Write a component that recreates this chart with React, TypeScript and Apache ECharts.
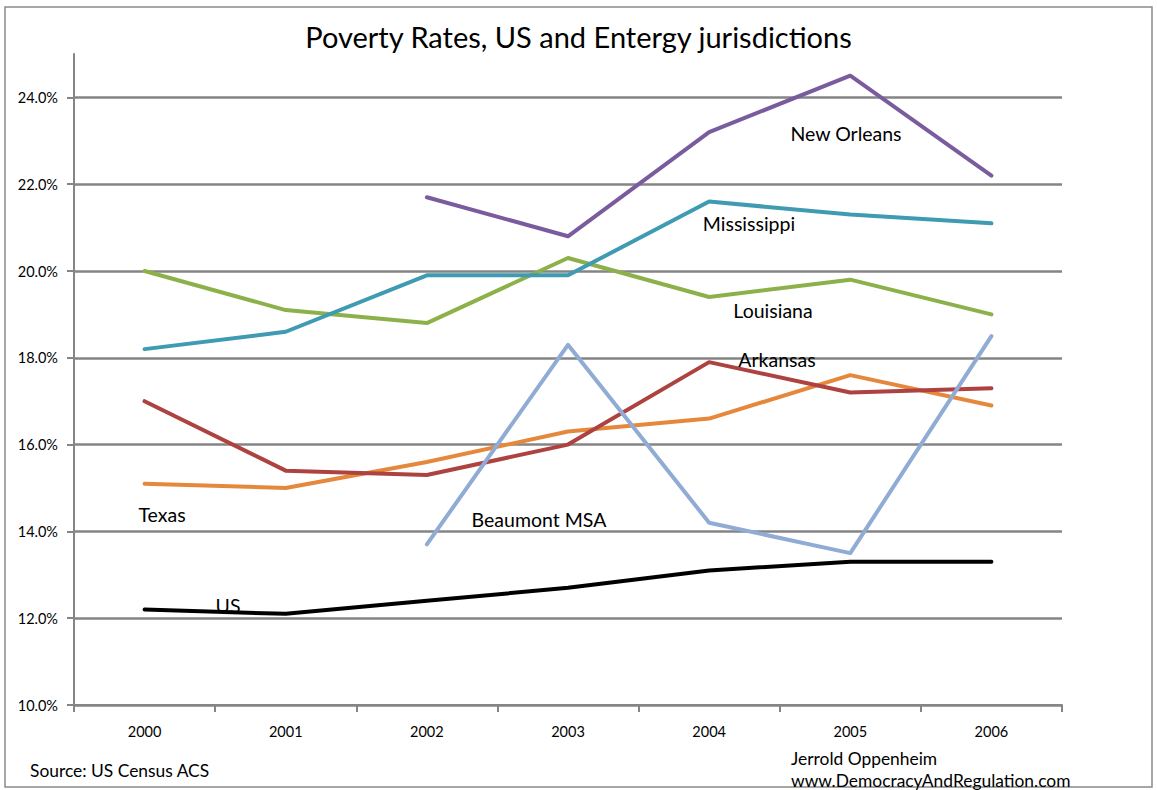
import React, { useEffect, useRef } from 'react';
import * as echarts from 'echarts';

const years = ['2000', '2001', '2002', '2003', '2004', '2005', '2006'];
const usRate = [12.2, 12.1, 12.4, 12.7, 13.1, 13.3, 13.3];
const texasRate = [15.1, 15.0, 15.6, 16.3, 16.6, 17.6, 16.9];
const arkansasRate = [17.0, 15.4, 15.3, 16.0, 17.9, 17.2, 17.3];
const louisianaRate = [20.0, 19.1, 18.8, 20.3, 19.4, 19.8, 19.0];
const mississippiRate = [18.2, 18.6, 19.9, 19.9, 21.6, 21.3, 21.1];
const newOrleansRate = [null, null, 21.7, 20.8, 23.2, 24.5, 22.2];
const beaumontRate = [null, null, 13.7, 18.3, 14.2, 13.5, 18.5];
const yTicks = [10, 12, 14, 16, 18, 20, 22, 24];

const FONT = 'Lato, "Liberation Sans", sans-serif';
const GRID = '#858585';

export default function App() {
  const ref = useRef<HTMLDivElement>(null);
  useEffect(() => {
    document.body.style.margin = '0';
    const chart = echarts.init(ref.current!, null, { renderer: 'svg' });
    const mkLine = (name: string, data: (number | null)[], color: string) => ({
      name,
      type: 'line',
      data,
      symbol: 'none',
      connectNulls: false,
      lineStyle: { color, width: 4, cap: 'round', join: 'round' },
      itemStyle: { color },
      z: 3,
    });
    const txt = (text: string, x: number, y: number) => ({
      type: 'text',
      x,
      y,
      style: { text, fill: '#000', font: `19.5px ${FONT}`, textAlign: 'center', textVerticalAlign: 'middle' },
      z: 10,
    });
    const foot = (text: string, x: number, y: number) => ({
      type: 'text',
      x,
      y,
      style: { text, fill: '#000', font: `17.4px ${FONT}`, textVerticalAlign: 'middle' },
    });
    chart.setOption({
      animation: false,
      backgroundColor: '#fff',
      textStyle: { fontFamily: FONT },
      title: {
        text: 'Poverty Rates, US and Entergy jurisdictions',
        left: 'center',
        top: 17,
        textStyle: { fontSize: 29, fontWeight: 'normal', color: '#000', fontFamily: FONT },
      },
      grid: { left: 74, right: 95, top: 54, bottom: 85, containLabel: false },
      xAxis: {
        type: 'category',
        data: years,
        boundaryGap: true,
        axisLine: { lineStyle: { color: GRID, width: 2 } },
        axisTick: { show: true, length: 7, lineStyle: { color: GRID, width: 2 } },
        axisLabel: { color: '#000', fontSize: 14.5, margin: 19, fontFamily: FONT },
        splitLine: { show: false },
      },
      yAxis: {
        type: 'value',
        min: 10,
        max: 25,
        interval: 2,
        axisLine: { show: true, lineStyle: { color: GRID, width: 2 } },
        axisTick: { show: true, length: 7, lineStyle: { color: GRID, width: 2 }, customValues: yTicks },
        axisLabel: {
          color: '#000',
          fontSize: 14.5,
          margin: 16,
          fontFamily: FONT,
          customValues: yTicks,
          formatter: (v: number) => (v > 24.5 ? '' : v.toFixed(1) + '%'),
        },
        splitLine: {
          show: true,
          lineStyle: {
            color: [GRID, GRID, GRID, GRID, GRID, GRID, GRID, GRID, 'rgba(0,0,0,0)'],
            width: 2.5,
          },
        },
      },
      series: [
        mkLine('US', usRate, '#000000'),
        mkLine('Texas', texasRate, '#E5883C'),
        mkLine('Arkansas', arkansasRate, '#AD4240'),
        mkLine('Louisiana', louisianaRate, '#8DB14A'),
        mkLine('Mississippi', mississippiRate, '#3E9BB2'),
        mkLine('New Orleans', newOrleansRate, '#7A5C9E'),
        mkLine('Beaumont MSA', beaumontRate, '#90ABD4'),
      ],
      graphic: [
        {
          type: 'rect',
          shape: { x: 5, y: 7, width: 1147, height: 780 },
          style: { fill: 'none', stroke: '#8a8a8a', lineWidth: 1.5 },
          z: 0,
          silent: true,
        },
        txt('New Orleans', 846, 133),
        txt('Mississippi', 749, 223),
        txt('Louisiana', 773, 310),
        txt('Arkansas', 777, 359),
        txt('Texas', 162, 514),
        txt('Beaumont MSA', 539, 519),
        txt('US', 228, 605),
        foot('Source: US Census ACS', 30, 770),
        foot('Jerrold Oppenheim', 791, 758),
        foot('www.DemocracyAndRegulation.com', 791, 780),
      ],
    });
    return () => chart.dispose();
  }, []);
  return <div ref={ref} style={{ width: 1157, height: 790 }} />;
}
